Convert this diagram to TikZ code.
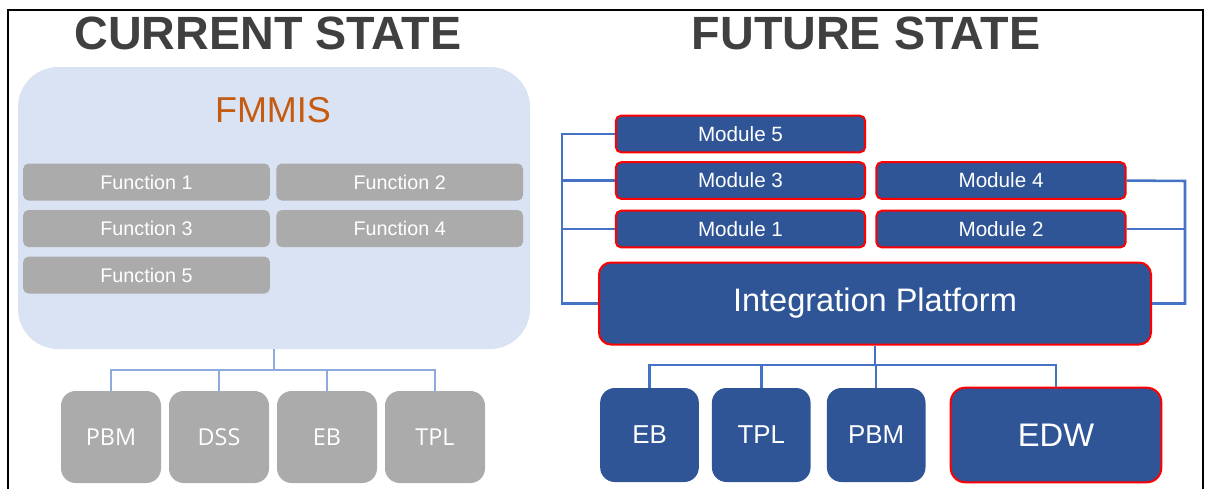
\documentclass[tikz,border=0pt]{standalone}
\usepackage{fontspec}
\setmainfont{Liberation Sans}
\newfontfamily\legacyfont{Open Sans}
\usetikzlibrary{positioning}
\definecolor{titlegray}{RGB}{64,64,64}
\definecolor{fmmisbg}{RGB}{218,227,243}
\definecolor{fmmisorange}{RGB}{197,90,17}
\definecolor{funcgray}{RGB}{171,171,171}
\definecolor{modblue}{RGB}{47,85,151}
\definecolor{linkblue}{RGB}{68,114,196}
\definecolor{busblue}{RGB}{143,170,220}
\definecolor{edgered}{RGB}{255,0,0}

\begin{document}
\begin{tikzpicture}[x=0.75pt, y=-0.75pt,
  title/.style={font=\fontsize{35}{40}\selectfont\bfseries, text=titlegray},
  func/.style={rectangle, rounded corners=4pt, fill=funcgray, text=white, minimum width=185pt, minimum height=27.75pt, inner sep=0pt, font=\fontsize{14.8}{16}\selectfont},
  legacy/.style={rectangle, rounded corners=11pt, fill=funcgray, text=white, minimum width=75pt, minimum height=69pt, inner sep=0pt, font=\legacyfont\fontsize{17.5}{20}\selectfont},
  module/.style={rectangle, rounded corners=4pt, fill=modblue, draw=edgered, line width=1.5pt, text=white, minimum width=187pt, minimum height=27.5pt, inner sep=0pt, font=\fontsize{15.5}{18}\selectfont},
  target/.style={rectangle, rounded corners=11pt, fill=modblue, text=white, minimum width=74pt, minimum height=70.5pt, inner sep=0pt, font=\fontsize{19.4}{22}\selectfont},
  bus/.style={busblue, line width=0.9pt},
  link/.style={linkblue, line width=1.9pt},
]
  \useasboundingbox (0,0) rectangle (1206,489);
  \draw[line width=1.5pt] (8,489) |- (1203,10) -- (1203,489);

  \node[title] (cur) at (268,33) {CURRENT STATE};
  \node[title] (fut) at (866,33) {FUTURE STATE};

  % current state
  \node[fill=fmmisbg, rounded corners=30pt, minimum width=384pt, minimum height=211.5pt] (fmmis) at (274,208) {};
  \node[font=\fontsize{27}{30}\selectfont, text=fmmisorange] (fmmislbl) at (273,110) {FMMIS};
  \node[func] (f1) at (146.5,182) {Function 1};
  \node[func, right=4.5pt of f1] (f2) {Function 2};
  \node[func, below=6.75pt of f1] (f3) {Function 3};
  \node[func, right=4.5pt of f3] (f4) {Function 4};
  \node[func, below=6.75pt of f3] (f5) {Function 5};

  \node[legacy] (l1) at (111,437) {PBM};
  \node[legacy, right=5.6pt of l1] (l2) {DSS};
  \node[legacy, right=5.6pt of l2] (l3) {EB};
  \node[legacy, right=5.6pt of l3] (l4) {TPL};

  \coordinate (lbus) at (274,370);
  \draw[bus] (fmmis.south) -- (lbus);
  \draw[bus] (l1.north) |- (lbus);
  \draw[bus] (l2.north) |- (lbus);
  \draw[bus] (l3.north) |- (lbus);
  \draw[bus] (l4.north) |- (lbus);

  % future state
  \node[module] (m5) at (740.5,134) {Module 5};
  \node[module, below=5.9pt of m5] (m3) {Module 3};
  \node[module, right=6.9pt of m3] (m4) {Module 4};
  \node[module, below=7.4pt of m3] (m1) {Module 1};
  \node[module, right=6.9pt of m1] (m2) {Module 2};
  \node[module, rounded corners=9pt, minimum width=414pt, minimum height=61.5pt, font=\fontsize{24.4}{28}\selectfont] (ip) at (875,303.5) {Integration Platform};

  \coordinate (lrail) at (562,134);
  \coordinate (rrail) at (1185,181);
  \draw[link] (m5.west) -- (lrail) |- (ip.west);
  \draw[link] (m3.west) -- (m3.west -| lrail);
  \draw[link] (m1.west) -- (m1.west -| lrail);
  \draw[link] (m4.east) -- (rrail) |- (ip.east);
  \draw[link] (m2.east) -- (m2.east -| rrail);

  \node[target] (t1) at (649.5,435) {EB};
  \node[target, right=9.4pt of t1] (t2) {TPL};
  \node[target, right=11.8pt of t2] (t3) {PBM};
  \node[target, draw=edgered, line width=1.5pt, minimum width=158pt, minimum height=71pt, font=\fontsize{24.5}{28}\selectfont] (edw) at (1056,435) {EDW};

  \coordinate (rbus) at (875,365);
  \draw[link] (ip.south) -- (rbus);
  \draw[link] (t1.north) |- (rbus);
  \draw[link] (t2.north) |- (rbus);
  \draw[link] (t3.north) |- (rbus);
  \draw[link] (edw.north) |- (rbus);
\end{tikzpicture}
\end{document}
